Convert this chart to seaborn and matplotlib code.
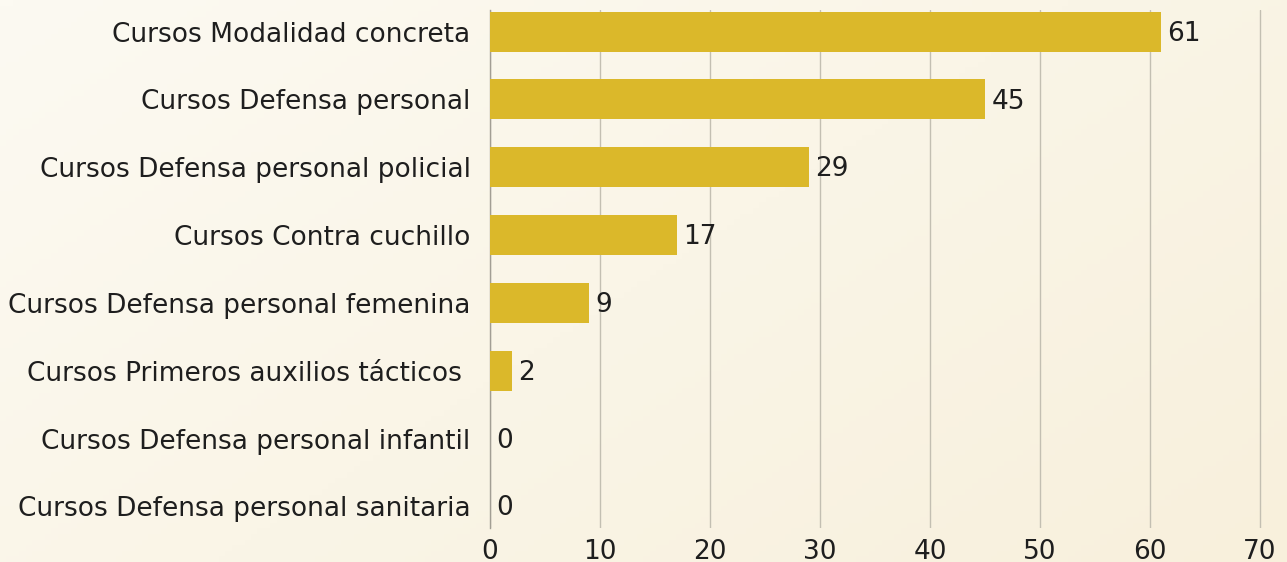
import numpy as np
import pandas as pd
import matplotlib
matplotlib.use("Agg")
import matplotlib.pyplot as plt
import seaborn as sns
from matplotlib.colors import LinearSegmentedColormap

# data
categories = ['Cursos Modalidad concreta', 'Cursos Defensa personal',
              'Cursos Defensa personal policial', 'Cursos Contra cuchillo',
              'Cursos Defensa personal femenina', 'Cursos Primeros auxilios tácticos ',
              'Cursos Defensa personal infantil', 'Cursos Defensa personal sanitaria']
values = [61, 45, 29, 17, 9, 2, 0, 0]
xticks = [0, 10, 20, 30, 40, 50, 60, 70]

df = pd.DataFrame({'curso': categories, 'n': values})

sns.set_style("white")
plt.rcParams['font.family'] = ['DejaVu Sans']

W, H = 1287, 562
fig = plt.figure(figsize=(W / 100, H / 100), dpi=100)

# background gradient
bg = fig.add_axes([0, 0, 1, 1], zorder=-10)
gx, gy = np.meshgrid(np.linspace(0, 1, 200), np.linspace(0, 1, 100))
grad = (gx * 0.6 + gy * 0.4)
cmap = LinearSegmentedColormap.from_list('bg', ['#fcfaf2', '#f8f0dc'])
bg.imshow(grad, cmap=cmap, aspect='auto', extent=[0, 1, 0, 1], origin='upper')
bg.axis('off')

ax = fig.add_axes([490 / W, 1 - 528 / H, (1262 - 490) / W, 518 / H])
ax.patch.set_alpha(0)

sns.barplot(data=df, x='n', y='curso', color='#dbb82a', width=0.59,
            saturation=1, linewidth=0, ax=ax, zorder=3)

ax.set_xlim(0, 70.18)
ax.set_ylim(7.32, -0.32)
ax.set_xticks(xticks)
ax.set_xlabel('')
ax.set_ylabel('')
ax.grid(axis='x', color='#c3bfb2', linewidth=1, zorder=0)
for s in ['top', 'right', 'bottom']:
    ax.spines[s].set_visible(False)
ax.spines['left'].set_color('#a29e94')
ax.spines['left'].set_linewidth(1)
ax.tick_params(axis='both', length=0, labelsize=19, labelcolor='#1e1e1e')
ax.tick_params(axis='y', pad=14)
ax.tick_params(axis='x', pad=8)

for i, v in enumerate(values):
    ax.text(v + 0.6, i + 0.03, str(v), va='center', ha='left', fontsize=19,
            color='#1e1e1e', zorder=4)

fig.savefig('out.png', dpi=100)
